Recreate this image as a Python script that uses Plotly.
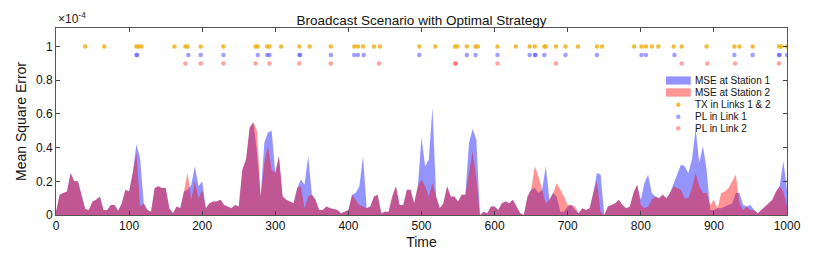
import plotly.graph_objects as go

# Time grid (every 5 time units) and MSE values in units of 1e-4
time = list(range(0, 1001, 5))

mse_station1 = [
    # 0 .. 250
    0.02, 0.12, 0.13, 0.14, 0.25, 0.20, 0.20, 0.11, 0.035, 0.03,
    0.08, 0.09, 0.11, 0.03, 0.03, 0.06, 0.06, 0.025, 0.07, 0.15,
    0.14, 0.25, 0.42, 0.34, 0.07, 0.03, 0.02, 0.16, 0.17, 0.16,
    0.16, 0.04, 0.01, 0.05, 0.04, 0.14, 0.15, 0.18, 0.29, 0.17,
    0.20, 0.04, 0.07, 0.08, 0.08, 0.09, 0.06, 0.05, 0.04, 0.06,
    0.05,
    # 255 .. 500
    0.27, 0.33, 0.52, 0.55, 0.37, 0.11, 0.43, 0.49, 0.50, 0.25,
    0.35, 0.11, 0.09, 0.08, 0.07, 0.16, 0.21, 0.18, 0.35, 0.12,
    0.09, 0.03, 0.03, 0.05, 0.04, 0.035, 0.03, 0.01, 0.02, 0.03,
    0.12, 0.13, 0.17, 0.35, 0.04, 0.05, 0.11, 0.12, 0.01, 0.02,
    0.02, 0.11, 0.17, 0.06, 0.06, 0.15, 0.15, 0.07, 0.17, 0.46,
    # 505 .. 750
    0.29, 0.33, 0.64, 0.11, 0.04, 0.07, 0.17, 0.11, 0.11, 0.08,
    0.12, 0.12, 0.43, 0.51, 0.45, 0.0, 0.02, 0.01, 0.05, 0.05,
    0.03, 0.07, 0.08, 0.07, 0.09, 0.05, 0.01, 0.0, 0.11, 0.15,
    0.16, 0.13, 0.15, 0.29, 0.09, 0.13, 0.11, 0.02, 0.02, 0.05,
    0.06, 0.03, 0.01, 0.04, 0.03, 0.04, 0.13, 0.25, 0.24, 0.0,
    # 755 .. 1000
    0.05, 0.06, 0.07, 0.09, 0.06, 0.04, 0.05, 0.13, 0.18, 0.09,
    0.19, 0.24, 0.13, 0.11, 0.10, 0.12, 0.10, 0.13, 0.19, 0.25,
    0.30, 0.29, 0.25, 0.33, 0.51, 0.31, 0.41, 0.27, 0.03, 0.03,
    0.04, 0.04, 0.05, 0.06, 0.07, 0.13, 0.13, 0.06, 0.05, 0.06,
    0.03, 0.01, 0.03, 0.05, 0.07, 0.09, 0.14, 0.17, 0.32, 0.15,
]

mse_station2 = [
    # 0 .. 250
    0.02, 0.12, 0.13, 0.14, 0.25, 0.20, 0.20, 0.11, 0.035, 0.03,
    0.08, 0.09, 0.11, 0.03, 0.03, 0.06, 0.06, 0.025, 0.07, 0.15,
    0.14, 0.25, 0.37, 0.05, 0.07, 0.03, 0.02, 0.16, 0.17, 0.16,
    0.16, 0.04, 0.01, 0.05, 0.04, 0.14, 0.25, 0.09, 0.20, 0.10,
    0.15, 0.04, 0.07, 0.08, 0.08, 0.09, 0.06, 0.05, 0.04, 0.06,
    0.05,
    # 255 .. 500
    0.27, 0.33, 0.52, 0.55, 0.50, 0.11, 0.31, 0.41, 0.27, 0.25,
    0.35, 0.11, 0.09, 0.08, 0.07, 0.16, 0.17, 0.04, 0.11, 0.12,
    0.09, 0.03, 0.03, 0.05, 0.04, 0.035, 0.03, 0.01, 0.02, 0.03,
    0.12, 0.09, 0.06, 0.05, 0.04, 0.05, 0.11, 0.12, 0.01, 0.02,
    0.02, 0.11, 0.17, 0.06, 0.06, 0.15, 0.15, 0.07, 0.17, 0.21,
    # 505 .. 750
    0.17, 0.11, 0.19, 0.11, 0.04, 0.07, 0.17, 0.11, 0.11, 0.08,
    0.12, 0.12, 0.25, 0.38, 0.21, 0.0, 0.02, 0.01, 0.05, 0.05,
    0.03, 0.07, 0.08, 0.07, 0.09, 0.05, 0.01, 0.0, 0.11, 0.15,
    0.29, 0.23, 0.15, 0.07, 0.09, 0.13, 0.19, 0.15, 0.11, 0.06,
    0.06, 0.05, 0.01, 0.04, 0.03, 0.04, 0.13, 0.20, 0.02, 0.0,
    # 755 .. 1000
    0.05, 0.06, 0.07, 0.09, 0.06, 0.04, 0.05, 0.13, 0.18, 0.06,
    0.04, 0.05, 0.09, 0.11, 0.10, 0.12, 0.10, 0.13, 0.17, 0.16,
    0.15, 0.10, 0.10, 0.16, 0.25, 0.17, 0.13, 0.13, 0.06, 0.09,
    0.04, 0.13, 0.14, 0.16, 0.20, 0.24, 0.07, 0.03, 0.05, 0.03,
    0.03, 0.01, 0.03, 0.05, 0.07, 0.09, 0.14, 0.17, 0.14, 0.05,
]

# Event times
tx_times = [40, 66, 110, 113, 117, 162, 177, 180, 198, 229, 273, 276, 289, 292,
            308, 333, 347, 376, 408, 413, 420, 435, 443, 497, 519, 546, 549,
            562, 574, 577, 604, 629, 648, 655, 668, 670, 684, 697, 714, 740,
            747, 791, 801, 807, 815, 824, 845, 856, 890, 928, 935, 953, 989,
            992, 1000]
pl1_times = [110, 111, 181, 198, 229, 276, 289, 292, 333, 334, 376, 408, 413,
             421, 497, 562, 574, 604, 648, 655, 656, 668, 697, 740, 801, 807,
             846, 928, 953, 989, 990, 1000]
pl2_times = [177, 198, 229, 273, 292, 333, 376, 442, 546, 547, 604, 684, 856,
             891, 929, 989]
tx_level, pl1_level, pl2_level = 1.0, 0.95, 0.9

legend_labels = ["MSE at Station 1", "MSE at Station 2", "TX in Links 1 & 2",
                 "PL in Link 1", "PL in Link 2"]

BLUE_FILL = "rgba(0,0,255,0.42)"
RED_FILL = "rgba(255,0,0,0.42)"
ORANGE_DOT = "rgba(237,177,32,0.85)"
BLUE_DOT = "rgba(80,80,255,0.55)"
RED_DOT = "rgba(255,70,70,0.5)"
FONT = "Liberation Sans, Arial, Helvetica, sans-serif"

fig = go.Figure()
fig.add_trace(go.Scatter(x=time, y=mse_station1, mode="lines", fill="tozeroy",
                         fillcolor=BLUE_FILL, line=dict(width=0),
                         name=legend_labels[0], showlegend=False))
fig.add_trace(go.Scatter(x=time, y=mse_station2, mode="lines", fill="tozeroy",
                         fillcolor=RED_FILL, line=dict(width=0),
                         name=legend_labels[1], showlegend=False))
fig.add_trace(go.Scatter(x=tx_times, y=[tx_level] * len(tx_times), mode="markers",
                         marker=dict(color=ORANGE_DOT, size=4.5),
                         name=legend_labels[2], showlegend=False))
fig.add_trace(go.Scatter(x=pl1_times, y=[pl1_level] * len(pl1_times), mode="markers",
                         marker=dict(color=BLUE_DOT, size=4.5),
                         name=legend_labels[3], showlegend=False))
fig.add_trace(go.Scatter(x=pl2_times, y=[pl2_level] * len(pl2_times), mode="markers",
                         marker=dict(color=RED_DOT, size=4.5),
                         name=legend_labels[4], showlegend=False))

# Custom compact legend (MATLAB style, no box)
shapes = []
annotations = []
leg_x_sym = 0.8513
leg_x_txt = 0.8718
leg_y = [0.7193, 0.6551, 0.5898, 0.5257, 0.4636]
patch_cols = [BLUE_FILL, RED_FILL]
for i in range(2):
    shapes.append(dict(type="rect", xref="paper", yref="paper",
                       x0=0.8345, x1=0.8683, y0=leg_y[i] - 0.022, y1=leg_y[i] + 0.022,
                       fillcolor=patch_cols[i], line=dict(width=0)))
dot_cols = [ORANGE_DOT, BLUE_DOT, RED_DOT]
for j in range(3):
    shapes.append(dict(type="circle", xref="paper", yref="paper",
                       xsizemode="pixel", ysizemode="pixel",
                       xanchor=leg_x_sym, yanchor=leg_y[j + 2],
                       x0=-2.2, x1=2.2, y0=-2.2, y1=2.2,
                       fillcolor=dot_cols[j], line=dict(width=0)))
for i, lab in enumerate(legend_labels):
    annotations.append(dict(x=leg_x_txt, y=leg_y[i], xref="paper", yref="paper",
                            text=lab, showarrow=False, xanchor="left", yanchor="middle",
                            font=dict(size=10, color="#111", family=FONT)))

annotations.append(dict(x=0, y=1.0, xref="paper", yref="paper",
                        text="×10<sup>-4</sup>", showarrow=False,
                        xanchor="left", yanchor="bottom", yshift=0,
                        font=dict(size=12, color="#222", family=FONT)))

# The page body has an 8px default margin, so the figure is offset by (8, 8).
fig.update_layout(
    width=806, height=253,
    margin=dict(l=48, r=27, t=20, b=46, autoexpand=False),
    paper_bgcolor="white", plot_bgcolor="white",
    font=dict(family=FONT, size=12, color="#111"),
    title=dict(text="Broadcast Scenario with Optimal Strategy", x=0.5, xanchor="center",
               xref="paper", y=1, yref="paper", yanchor="bottom", pad=dict(b=3),
               font=dict(size=13.5, color="#111", family=FONT)),
    shapes=shapes, annotations=annotations,
    showlegend=False,
)
fig.update_xaxes(range=[0, 1000], tickmode="array", tickvals=list(range(0, 1001, 100)),
                 ticks="inside", ticklen=4, tickcolor="#444", showline=True,
                 linecolor="#555", linewidth=1, mirror="ticks", showgrid=False,
                 zeroline=False, tickfont=dict(size=12, color="#111"), automargin=False,
                 title=dict(text="Time", font=dict(size=14, color="#111"), standoff=4))
fig.update_yaxes(range=[0, 1.11], tickmode="array", tickvals=[0, 0.2, 0.4, 0.6, 0.8, 1],
                 ticktext=["0", "0.2", "0.4", "0.6", "0.8", "1"],
                 ticks="inside", ticklen=4, tickcolor="#444", showline=True,
                 linecolor="#555", linewidth=1, mirror="ticks", showgrid=False,
                 zeroline=False, tickfont=dict(size=12, color="#111"), automargin=False,
                 title=dict(text="Mean Square Error", font=dict(size=14, color="#111"),
                            standoff=6))

fig.write_html("out.html")
